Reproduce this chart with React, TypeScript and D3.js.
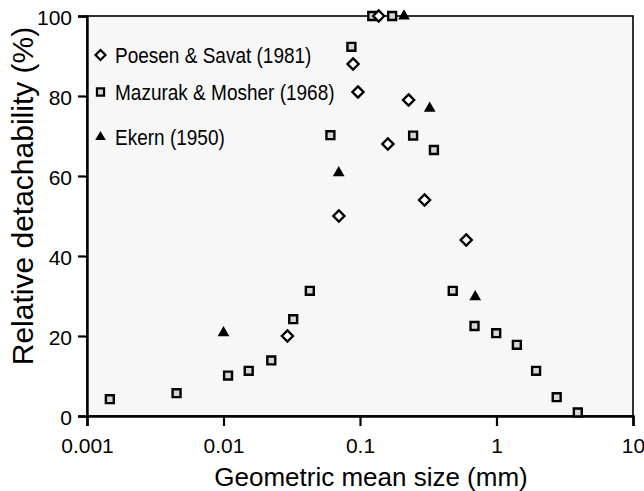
import React, { useRef, useEffect } from 'react';
import * as d3 from 'd3';

// Poesen & Savat (1981)
const poesenSize = [0.0294, 0.070, 0.089, 0.0966, 0.137, 0.160, 0.227, 0.297, 0.600];
const poesenDet = [20, 50, 88, 81, 100, 68, 79, 54, 44];

// Mazurak & Mosher (1968)
const mazurakSize = [0.00147, 0.00453, 0.0108, 0.0153, 0.0224, 0.0324, 0.0429, 0.0607, 0.0865, 0.123, 0.172, 0.245, 0.348, 0.478, 0.69, 0.995, 1.41, 1.95, 2.76, 3.94];
const mazurakDet = [4.2, 5.7, 10.1, 11.3, 13.9, 24.2, 31.3, 70.2, 92.3, 100, 100, 70.1, 66.5, 31.3, 22.5, 20.7, 17.8, 11.3, 4.7, 0.9];

// Ekern (1950)
const ekernSize = [0.01, 0.0698, 0.21, 0.324, 0.698];
const ekernDet = [20.8, 60.8, 100, 76.9, 29.8];

const xTicks = [0.001, 0.01, 0.1, 1, 10];
const xTickLabels = ['0.001', '0.01', '0.1', '1', '10'];
const yTicks = [0, 20, 40, 60, 80, 100];

const legendLabels = ['Poesen & Savat (1981)', 'Mazurak & Mosher (1968)', 'Ekern (1950)'];

const FONT = 'Arial, "Liberation Sans", Helvetica, sans-serif';

const Chart: React.FC = () => {
  const ref = useRef<SVGSVGElement | null>(null);

  useEffect(() => {
    if (!ref.current) return;
    d3.select(ref.current).selectAll('*').remove();

    const width = 644;
    const height = 491;
    const margin = { top: 16, right: 11, bottom: 75, left: 87 };
    const innerWidth = width - margin.left - margin.right;
    const innerHeight = height - margin.top - margin.bottom;

    const svg = d3.select(ref.current)
      .attr('width', width)
      .attr('height', height)
      .style('display', 'block')
      .style('overflow', 'hidden')
      .style('font-family', FONT);

    svg.append('rect')
      .attr('width', width)
      .attr('height', height)
      .attr('fill', '#ffffff');

    const g = svg.append('g')
      .attr('transform', `translate(${margin.left},${margin.top})`);

    const x = d3.scaleLog().domain([0.001, 10]).range([0, innerWidth]);
    const y = d3.scaleLinear().domain([0, 100]).range([innerHeight, 0]);

    // plot background + frame
    g.append('rect')
      .attr('width', innerWidth)
      .attr('height', innerHeight)
      .attr('fill', '#f7f7f7')
      .attr('stroke', '#000')
      .attr('stroke-width', 1.6);

    // y axis
    const yAxis = g.append('g')
      .call(d3.axisLeft(y).tickValues(yTicks).tickSize(9).tickPadding(6).tickFormat(d3.format('d')));
    yAxis.select('.domain').attr('stroke-width', 2.4);
    yAxis.selectAll('.tick line').attr('stroke-width', 2.2);
    yAxis.selectAll('.tick text')
      .attr('font-size', 21)
      .attr('font-family', FONT)
      .attr('fill', '#000')
      .attr('dy', '0.42em');

    // x axis
    const xAxis = g.append('g')
      .attr('transform', `translate(0,${innerHeight})`)
      .call(d3.axisBottom(x).tickValues(xTicks).tickSize(10).tickPadding(12)
        .tickFormat((d, i) => xTickLabels[i]));
    xAxis.select('.domain').attr('stroke-width', 2.4);
    xAxis.selectAll('.tick line').attr('stroke-width', 2.2);
    xAxis.selectAll('.tick text')
      .attr('font-size', 21)
      .attr('font-family', FONT)
      .attr('fill', '#000');

    // markers
    const diamond = d3.symbol().type(d3.symbolDiamond2).size(78);
    const square = d3.symbol().type(d3.symbolSquare2).size(80);
    const triangle = d3.symbol().type(d3.symbolTriangle).size(60);

    const poesen = poesenSize.map((s, i) => ({ s, d: poesenDet[i] }));
    const mazurak = mazurakSize.map((s, i) => ({ s, d: mazurakDet[i] }));
    const ekern = ekernSize.map((s, i) => ({ s, d: ekernDet[i] }));

    g.append('g')
      .selectAll('path')
      .data(mazurak)
      .join('path')
      .attr('d', square()!)
      .attr('transform', d => `translate(${x(d.s)},${y(d.d)})`)
      .attr('fill', '#d6d6d6')
      .attr('stroke', '#000')
      .attr('stroke-width', 2.4);

    g.append('g')
      .selectAll('path')
      .data(poesen)
      .join('path')
      .attr('d', diamond()!)
      .attr('transform', d => `translate(${x(d.s)},${y(d.d)})`)
      .attr('fill', '#fff')
      .attr('stroke', '#000')
      .attr('stroke-width', 2.4);

    g.append('g')
      .selectAll('path')
      .data(ekern)
      .join('path')
      .attr('d', triangle()!)
      .attr('transform', d => `translate(${x(d.s)},${y(d.d)})`)
      .attr('fill', '#000');

    // legend
    const legendY = [55, 92, 137];
    const legendGlyph = [
      { path: diamond()!, fill: '#fff', stroke: '#000' },
      { path: square()!, fill: '#d6d6d6', stroke: '#000' },
      { path: triangle()!, fill: '#000', stroke: 'none' },
    ];
    legendLabels.forEach((label, i) => {
      svg.append('path')
        .attr('d', legendGlyph[i].path)
        .attr('transform', `translate(100.5,${legendY[i]}) scale(0.9)`)
        .attr('fill', legendGlyph[i].fill)
        .attr('stroke', legendGlyph[i].stroke)
        .attr('stroke-width', 2.4);
      svg.append('text')
        .attr('transform', `translate(115,${legendY[i] + 8}) scale(1,1.15)`)
        .attr('font-size', 19)
        .attr('fill', '#000')
        .text(label);
    });

    // axis titles
    svg.append('text')
      .attr('x', 371)
      .attr('y', 486)
      .attr('text-anchor', 'middle')
      .attr('font-size', 26)
      .attr('fill', '#000')
      .text('Geometric mean size (mm)');

    svg.append('text')
      .attr('transform', 'translate(33,196) rotate(-90)')
      .attr('text-anchor', 'middle')
      .attr('font-size', 30)
      .attr('fill', '#000')
      .text('Relative detachability (%)');
  }, []);

  return <svg ref={ref} />;
};

export default function App() {
  return (
    <div style={{ position: 'absolute', left: 0, top: 0, width: 644, height: 491, overflow: 'hidden' }}>
      <Chart />
    </div>
  );
}
